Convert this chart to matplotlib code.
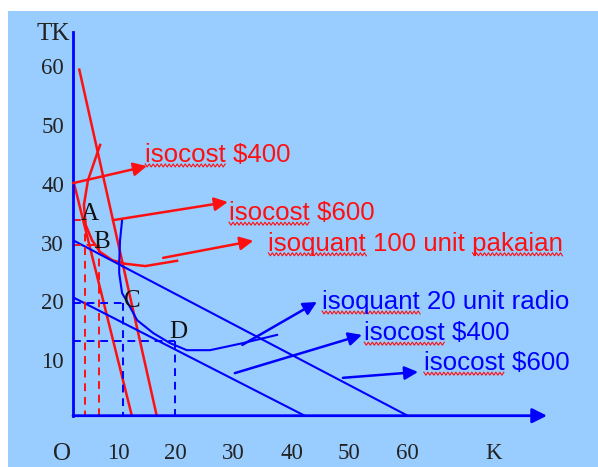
import matplotlib
matplotlib.use("Agg")
import matplotlib.pyplot as plt
from matplotlib.patches import Rectangle
from matplotlib.font_manager import FontProperties

# axis ticks
x_ticks = [10, 20, 30, 40, 50, 60]
y_ticks = [10, 20, 30, 40, 50, 60]

# red lines (pakaian)
red_isocost_400_k = [2.4, 12.4]
red_isocost_400_tk = [40.0, 0.5]
red_isocost_600_k = [3.3, 16.7]
red_isocost_600_tk = [59.4, 0.5]
red_isoquant_k = [6.9, 4.8, 4.1, 4.4, 5.5, 6.9, 9.0, 11.2, 14.7, 20.2]
red_isoquant_tk = [46.6, 40.6, 36.4, 33.0, 30.4, 28.4, 27.0, 26.4, 26.0, 26.9]

# blue lines (radio)
blue_isocost_400_k = [2.2, 42.4]
blue_isocost_400_tk = [20.7, 0.5]
blue_isocost_600_k = [2.2, 60.2]
blue_isocost_600_tk = [30.4, 0.5]
blue_isoquant_k = [10.7, 10.35, 10.2, 10.2, 10.7, 11.6, 13.3, 16.1, 19.0, 21.9, 25.9, 31.6, 37.5]
blue_isoquant_tk = [33.8, 30.4, 26.5, 24.8, 21.4, 19.9, 16.8, 14.6, 12.9, 11.7, 11.7, 12.9, 14.3]

# equilibrium points
point_names = ["A", "B", "C", "D"]
point_k = [4.3, 6.7, 10.9, 19.9]
point_tk = [33.8, 29.6, 19.7, 13.3]
point_colors = ["red", "red", "blue", "blue"]

# callouts: text, colour, arrow start, arrow tip, text position, words with squiggle
labels = [
    ("isocost $400", "red", (2.2, 40.1), (15.0, 43.0), (14.7, 43.7), ["isocost"]),
    ("isocost $600", "red", (9.1, 33.8), (29.0, 36.9), (29.2, 33.8), ["isocost"]),
    ("isoquant 100 unit pakaian", "red", (17.8, 27.4), (33.4, 30.3), (36.0, 28.6),
     ["isoquant", "pakaian"]),
    ("isoquant 20 unit radio", "blue", (31.5, 12.6), (44.4, 19.9), (45.3, 18.7), ["isoquant"]),
    ("isocost $400", "blue", (30.2, 7.8), (52.2, 14.3), (52.6, 13.4), ["isocost"]),
    ("isocost $600", "blue", (48.9, 7.0), (61.9, 8.0), (62.9, 8.3), ["isocost"]),
]

RED = "#ff1010"
BLUE = "#0000ff"
BG = "#99ccff"
LABEL_SIZE = 18.6

fig = plt.figure(figsize=(5.98, 4.67), dpi=100)
fig.patch.set_facecolor("white")
fig.add_artist(Rectangle((8 / 598, 0), 1, (467 - 11) / 467, transform=fig.transFigure,
                         facecolor=BG, edgecolor="none", zorder=-10))

ax = fig.add_axes([73 / 598, (467 - 415.7) / 467, (547 - 73) / 598, (415.7 - 32) / 467])
ax.set_facecolor("none")
ax.set_xlim(2.21, 84.2)
ax.set_ylim(0.56, 65.8)

for s in ["top", "right", "bottom"]:
    ax.spines[s].set_visible(False)
ax.spines["left"].set_color(BLUE)
ax.spines["left"].set_linewidth(2)
ax.annotate("", xy=(1, 0), xytext=(0, 0), xycoords="axes fraction",
            arrowprops=dict(arrowstyle="-|>", color=BLUE, lw=2, mutation_scale=22,
                            shrinkA=0, shrinkB=0), annotation_clip=False)

tick_font = dict(family="Liberation Serif", size=16.5, color="#222222")
ax.set_xticks(x_ticks + [75], labels=[str(v) for v in x_ticks] + ["K"], **tick_font)
ax.set_yticks(y_ticks, labels=[str(v) for v in y_ticks], **tick_font)
ax.tick_params(axis="x", length=0, pad=20)
ax.tick_params(axis="y", length=0, pad=6.5)
ax.text(0.3, -6.0, "O", ha="center", va="center", clip_on=False,
        family="Liberation Serif", size=18, color="#222222")
ax.text(1.7, 65.4, "TK", ha="right", va="center", clip_on=False,
        family="Liberation Serif", size=18, color="#222222")

# isocost and isoquant lines
ax.plot(red_isocost_400_k, red_isocost_400_tk, color=RED, lw=1.8)
ax.plot(red_isocost_600_k, red_isocost_600_tk, color=RED, lw=1.8)
ax.plot(red_isoquant_k, red_isoquant_tk, color=RED, lw=1.8)
ax.plot(blue_isocost_400_k, blue_isocost_400_tk, color=BLUE, lw=1.5)
ax.plot(blue_isocost_600_k, blue_isocost_600_tk, color=BLUE, lw=1.5)
ax.plot(blue_isoquant_k, blue_isoquant_tk, color=BLUE, lw=1.5)

# dashed guides to the axes, point letters
offsets = [(3.2, 4.7), (2.2, 2.2), (6.8, 1.4), (2.2, 6.5)]
for name, k, tk, c, off in zip(point_names, point_k, point_tk, point_colors, offsets):
    col = RED if c == "red" else BLUE
    ax.plot([ax.get_xlim()[0], k], [tk, tk], color=col, lw=1.4, ls=(0, (4, 3)))
    ax.plot([k, k], [tk, ax.get_ylim()[0]], color=col, lw=1.4, ls=(0, (4, 3)))
    ax.annotate(name, (k, tk), xytext=off, textcoords="offset points",
                ha="center", va="center", family="Liberation Serif", size=18,
                color="#111111")

# callout arrows and labels
texts = []
for text, c, start, tip, pos, words in labels:
    col = RED if c == "red" else BLUE
    ax.annotate("", xy=tip, xytext=start,
                arrowprops=dict(arrowstyle="-|>", color=col, lw=1.8, mutation_scale=20,
                                shrinkA=0, shrinkB=0))
    t = ax.text(pos[0], pos[1], text, color=col, ha="left", va="baseline",
                family="Liberation Sans", size=LABEL_SIZE)
    texts.append((t, words))

# spell-check squiggles under some words
fig.canvas.draw()
renderer = fig.canvas.get_renderer()
fp = FontProperties(family="Liberation Sans", size=LABEL_SIZE)
for t, words in texts:
    full = t.get_text()
    x0, y0 = ax.transData.transform(t.get_position())
    for w in words:
        i = full.index(w)
        end_w = renderer.get_text_width_height_descent(full[:i + len(w)], fp, ismath=False)[0]
        w_w = renderer.get_text_width_height_descent(w, fp, ismath=False)[0]
        xs, ys = [], []
        px = x0 + end_w - w_w
        n = 0
        while px <= x0 + end_w + 1:
            xs.append(px)
            ys.append(y0 - 2 - (3 if n % 2 else 0))
            px += 2
            n += 1
        pts = ax.transData.inverted().transform(list(zip(xs, ys)))
        ax.plot(pts[:, 0], pts[:, 1], color=RED, lw=0.8, clip_on=False)

fig.savefig("out.png", dpi=100, facecolor=fig.get_facecolor())
